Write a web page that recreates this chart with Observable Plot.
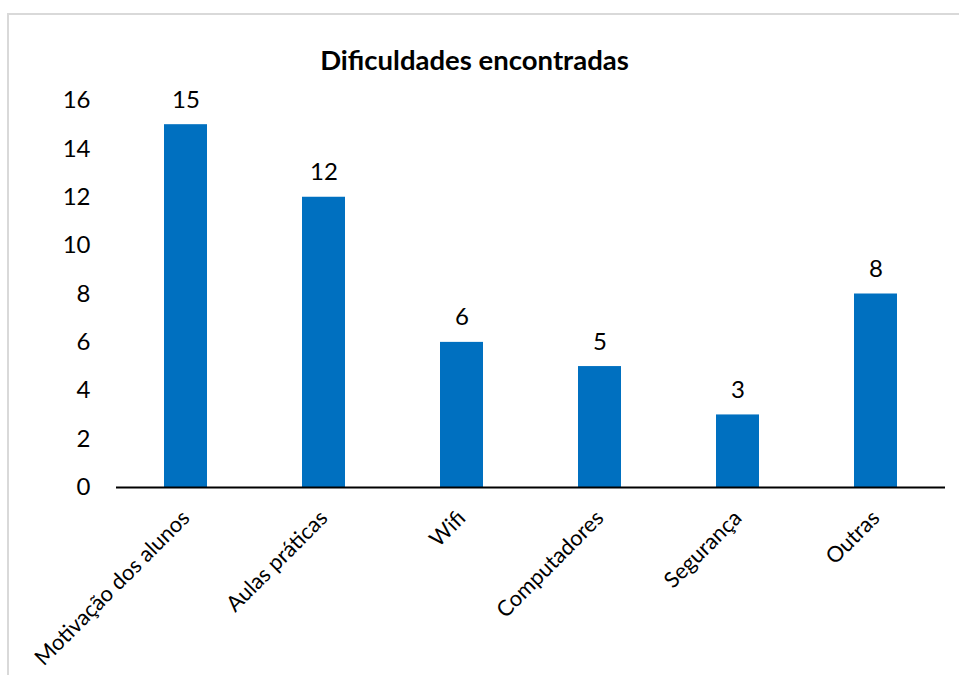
<!DOCTYPE html>
<html><head><meta charset="utf-8">
<script src="https://cdn.jsdelivr.net/npm/d3@7"></script>
<script src="https://cdn.jsdelivr.net/npm/@observablehq/plot@0.6"></script>
<style>
body{margin:0;background:#fff;overflow:hidden;}
#wrap{position:relative;width:959px;height:675px;}
#border{position:absolute;left:7px;top:13px;width:1000px;height:800px;border:2px solid #d9d9d9;box-sizing:border-box;}
#title{position:absolute;left:0;width:949px;top:43px;text-align:center;font-family:Lato,"Open Sans",sans-serif;font-weight:bold;font-size:27.5px;color:#000;}
#chart{position:absolute;left:0;top:0;}
</style></head>
<body><div id="wrap"><div id="border"></div><div id="title">Dificuldades encontradas</div><div id="chart"></div></div>
<script>
const categories = ["Motivação dos alunos","Aulas práticas","Wifi","Computadores","Segurança","Outras"];
const values = [15,12,6,5,3,8];
const yTicks = [0,2,4,6,8,10,12,14,16];
const data = categories.map((c,i)=>({cat:c, v:values[i]}));
const chart = Plot.plot({
  width:959, height:675,
  marginLeft:116, marginRight:14, marginTop:100, marginBottom:188,
  style:{fontFamily:'Lato,"Open Sans",sans-serif', fontSize:"24px", color:"#000", background:"transparent"},
  x:{domain:categories, paddingInner:0.69, paddingOuter:0.345, label:null},
  y:{domain:[0,16], ticks:yTicks, label:null, tickSize:0, tickPadding:26},
  marks:[
    Plot.barY(data,{x:"cat", y:"v", fill:"#0070C0"}),
    Plot.axisX({tickSize:0, tickRotate:-45, tickPadding:27, fontSize:21.8}),
    Plot.text(data,{x:"cat", y:"v", text:d=>String(d.v), lineAnchor:"bottom", dy:-17, fontSize:24, fill:"#000"}),
    Plot.ruleY([0],{stroke:"#000", strokeWidth:2}),
    Plot.ruleX([0],{frameAnchor:"left", y1:0, y2:16, stroke:"#000", strokeWidth:2})
  ]
});
document.getElementById("chart").appendChild(chart);
</script></body></html>
